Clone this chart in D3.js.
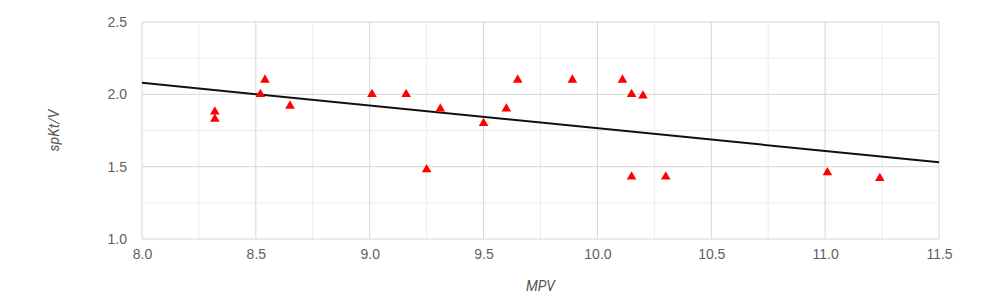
<!DOCTYPE html>
<html>
<head>
<meta charset="utf-8">
<script src="https://cdn.jsdelivr.net/npm/d3@7"></script>
<style>
  body { margin: 0; background: #fff; }
  svg { font-family: Roboto, Arial, sans-serif; }
</style>
</head>
<body>
<div class="chart-container"></div>
<script>
// MPV vs spKt/V values
const mpv = [8.32, 8.32, 8.52, 8.54, 8.65, 9.01, 9.16, 9.25, 9.31, 9.50, 9.60, 9.65, 9.89, 10.11, 10.15, 10.20, 10.15, 10.30, 11.01, 11.24];
const spktv = [1.88, 1.83, 2.00, 2.10, 1.92, 2.00, 2.00, 1.48, 1.90, 1.80, 1.90, 2.10, 2.10, 2.10, 2.00, 1.99, 1.43, 1.43, 1.46, 1.42];

// trend line end points
const trendX = [8.0, 11.5];
const trendY = [2.08, 1.53];

const xTicks = [8.0, 8.5, 9.0, 9.5, 10.0, 10.5, 11.0, 11.5];
const yTicks = [1.0, 1.5, 2.0, 2.5];
const xMinor = [8.25, 8.75, 9.25, 9.75, 10.25, 10.75, 11.25];
const yMinor = [1.25, 1.75, 2.25];

function draw(){
    const width = 986;
    const height = 307;
    const marginTop = 22;
    const marginRight = 47;
    const marginBottom = 68;
    const marginLeft = 142;

    const x = d3.scaleLinear()
        .domain([8, 11.5])
        .range([marginLeft, width - marginRight]);

    const y = d3.scaleLinear()
        .domain([1, 2.5])
        .range([height - marginBottom, marginTop]);

    const svg = d3.select('.chart-container').append("svg")
        .attr("width", width)
        .attr("height", height);

    // minor grid
    svg.append("g").selectAll("line").data(xMinor).join("line")
        .attr("x1", d=>x(d)).attr("x2", d=>x(d))
        .attr("y1", y(1)).attr("y2", y(2.5))
        .attr("stroke", "#ebebeb");
    svg.append("g").selectAll("line").data(yMinor).join("line")
        .attr("x1", x(8)).attr("x2", x(11.5))
        .attr("y1", d=>y(d)).attr("y2", d=>y(d))
        .attr("stroke", "#ebebeb");

    // major grid
    svg.append("g").selectAll("line").data(xTicks).join("line")
        .attr("x1", d=>x(d)).attr("x2", d=>x(d))
        .attr("y1", y(1)).attr("y2", y(2.5))
        .attr("stroke", "#d6d6d6");
    svg.append("g").selectAll("line").data(yTicks).join("line")
        .attr("x1", x(8)).attr("x2", x(11.5))
        .attr("y1", d=>y(d)).attr("y2", d=>y(d))
        .attr("stroke", "#d6d6d6");

    // x-axis
    svg.append("g")
        .attr("transform", `translate(0,${height - marginBottom})`)
        .call(d3.axisBottom(x).tickValues(xTicks).tickFormat(d3.format(".1f")).tickSize(0).tickPadding(10))
        .call(g=>g.select(".domain").remove())
        .call(g=>g.selectAll("text").attr("fill", "#5f5f5f").style("font-size", "14px"));

    // y-axis
    svg.append("g")
        .attr("transform", `translate(${marginLeft},0)`)
        .call(d3.axisLeft(y).tickValues(yTicks).tickFormat(d3.format(".1f")).tickSize(0).tickPadding(15))
        .call(g=>g.select(".domain").remove())
        .call(g=>g.selectAll("text").attr("fill", "#5f5f5f").style("font-size", "14px"));

    // trend line
    svg.append("line")
        .attr("x1", x(trendX[0])).attr("y1", y(trendY[0]))
        .attr("x2", x(trendX[1])).attr("y2", y(trendY[1]))
        .attr("stroke", "#111")
        .attr("stroke-width", 2);

    // points
    svg.append("g").selectAll("path")
        .data(mpv.map((d,i)=>[d, spktv[i]]))
        .join("path")
        .attr("d", d3.symbol(d3.symbolTriangle, 40))
        .attr("transform", d=>`translate(${x(d[0])},${y(d[1])})`)
        .attr("fill", "#ff0000");

    // axis titles
    svg.append("text")
        .attr("x", (x(8) + x(11.5)) / 2)
        .attr("y", 291)
        .attr("text-anchor", "middle")
        .attr("fill", "#555")
        .style("font-size", "14px")
        .style("font-style", "italic")
        .text("MPV");

    svg.append("text")
        .attr("transform", `translate(59,${(y(1) + y(2.5)) / 2}) rotate(-90)`)
        .attr("text-anchor", "middle")
        .attr("fill", "#555")
        .style("font-size", "14px")
        .style("font-style", "italic")
        .text("spKt/V");
}

draw();
</script>
</body>
</html>
